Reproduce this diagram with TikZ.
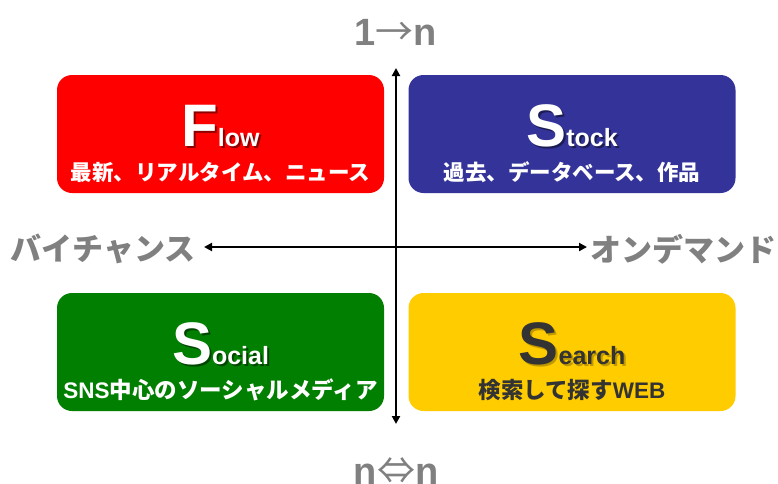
\documentclass[tikz,border=0pt]{standalone}
\usepackage{fontspec}
\setmainfont{Liberation Sans}
\newfontfamily\jp{Noto Sans CJK JP}
\usetikzlibrary{arrows.meta}
\definecolor{flowred}{HTML}{FF0000}
\definecolor{stockblue}{HTML}{333399}
\definecolor{socialgreen}{HTML}{007F00}
\definecolor{searchyellow}{HTML}{FFCC00}
\definecolor{labelgray}{HTML}{808080}
\definecolor{darktext}{HTML}{333333}
\tikzset{
  quadbox/.style={draw=none, rounded corners=15pt, minimum width=327pt, minimum height=118pt, inner sep=0pt},
  titletext/.style={anchor=base, inner sep=0pt, font=\bfseries},
  subtext/.style={anchor=center, inner sep=0pt, font=\bfseries\fontsize{21.5}{24}\selectfont},
  subtextwide/.style={subtext, font=\bfseries\fontsize{22.5}{25}\selectfont},
  axislabel/.style={inner sep=0pt, text=labelgray, font=\bfseries\fontsize{31}{34}\selectfont},
  axisarrow/.style={line width=2.4pt, {Triangle[width=8pt,length=8pt]}-{Triangle[width=8pt,length=8pt]}},
}
\newcommand{\bigttl}[2]{{\fontsize{60}{60}\selectfont #1}{\fontsize{25}{25}\selectfont #2}}
\begin{document}
\begin{tikzpicture}[x=1pt,y=-1pt]
\useasboundingbox (0,0) rectangle (778,483);
\fill[white] (0,0) rectangle (778,483);
% boxes
\node[quadbox, fill=flowred] (flow) at (220.5,134) {};
\node[quadbox, fill=stockblue] (stock) at (572,134) {};
\node[quadbox, fill=socialgreen] (social) at (220.5,352) {};
\node[quadbox, fill=searchyellow] (search) at (572,352) {};
% titles with shadows
\node[titletext, text=black, opacity=0.45] (flowTs) at ([xshift=2pt,yshift=-14pt]flow.center) {\bigttl{F}{low}};
\node[titletext, text=white] (flowT) at ([yshift=-12pt]flow.center) {\bigttl{F}{low}};
\node[titletext, text=black, opacity=0.45] (stockTs) at ([xshift=2pt,yshift=-14pt]stock.center) {\bigttl{S}{tock}};
\node[titletext, text=white] (stockT) at ([yshift=-12pt]stock.center) {\bigttl{S}{tock}};
\node[titletext, text=black, opacity=0.45] (socialTs) at ([xshift=2pt,yshift=-14pt]social.center) {\bigttl{S}{ocial}};
\node[titletext, text=white] (socialT) at ([yshift=-12pt]social.center) {\bigttl{S}{ocial}};
\node[titletext, text=black, opacity=0.25] (searchTs) at ([xshift=2pt,yshift=-14pt]search.center) {\bigttl{S}{earch}};
\node[titletext, text=darktext] (searchT) at ([yshift=-12pt]search.center) {\bigttl{S}{earch}};
% subtitles
\node[subtext, text=white] (flowS) at ([yshift=-38pt]flow.center) {\jp 最新、リアルタイム、ニュース};
\node[subtext, text=white] (stockS) at ([yshift=-38pt]stock.center) {\jp 過去、データベース、作品};
\node[subtextwide, text=white] (socialS) at ([yshift=-38pt]social.center) {SNS{\jp 中心のソーシャルメディア}};
\node[subtextwide, text=darktext] (searchS) at ([yshift=-38pt]search.center) {{\jp 検索して探す}WEB};
% axes
\coordinate (vtop) at (396,68);
\coordinate (vbot) at (396,424);
\coordinate (hleft) at (204,247);
\coordinate (hright) at (587,247);
\draw[axisarrow] (vbot) -- (vtop);
\draw[axisarrow] (hleft) -- (hright);
% axis labels
\node[axislabel, anchor=east] (bychance) at (196,249) {\jp バイチャンス};
\node[axislabel, anchor=west] (ondemand) at (590,249) {\jp オンデマンド};
\node[inner sep=0pt, anchor=base, text=labelgray, font=\bfseries\fontsize{38}{40}\selectfont] (onen) at (396,45) {1{\jp\mdseries →}n};
\node[inner sep=0pt, anchor=base, text=labelgray, font=\bfseries\fontsize{38}{40}\selectfont] (nn) at (396,484) {n{\jp\mdseries ⇔}n};
\end{tikzpicture}
\end{document}
